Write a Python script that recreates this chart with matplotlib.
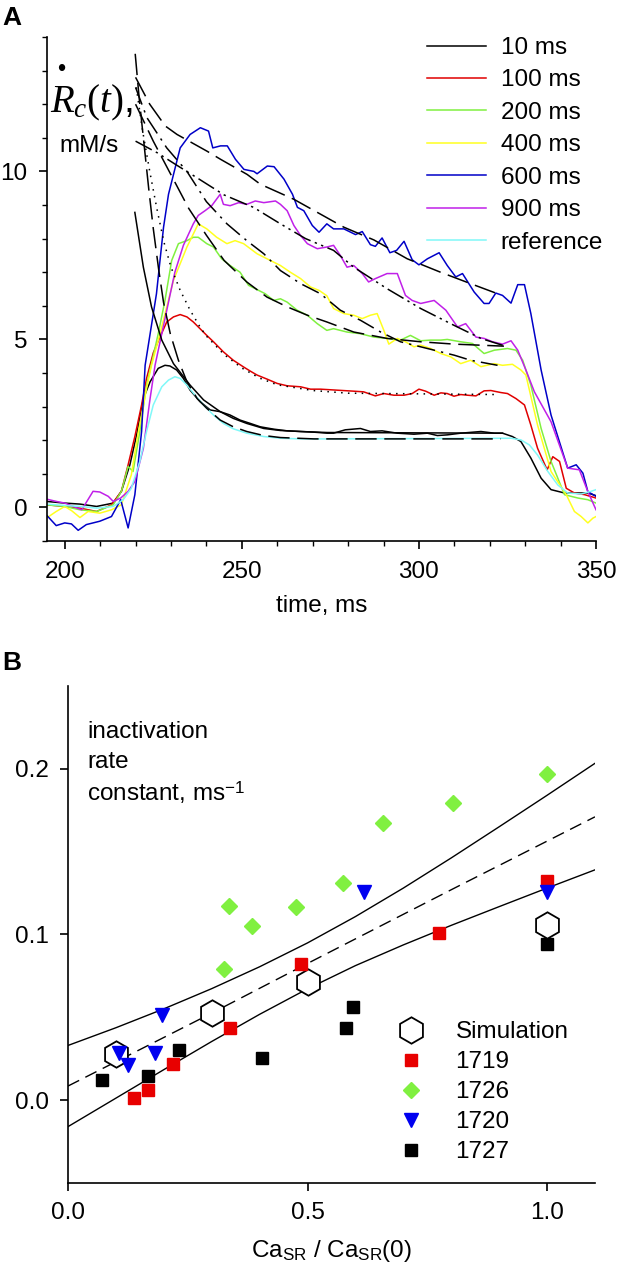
import matplotlib
matplotlib.use("Agg")
import matplotlib.pyplot as plt

plt.rcParams['font.family'] = ['Liberation Sans', 'DejaVu Sans']
plt.rcParams['mathtext.fontset'] = 'custom'
plt.rcParams['mathtext.rm'] = 'Liberation Serif'
plt.rcParams['mathtext.it'] = 'Liberation Serif:italic'
plt.rcParams['mathtext.sf'] = 'Liberation Sans'

# ---------------- panel A: release flux traces ----------------
T_10 = [194.8, 200, 204.3, 209, 213.7, 216, 218.4, 220.3, 222.2, 224.1, 226.4, 228.3, 229.7, 231.6,
        233.5, 235.4, 238.2, 241.1, 243.9, 246.7, 249.5, 252.4, 255.2, 259, 262.8, 266.6, 270.4, 274.1,
        275.9, 279.2, 283.5, 286.3, 289.6, 293.9, 298.6, 302.4, 305.2, 308, 311.8, 317.5, 321.3, 323.6,
        326.4, 328.8, 331.6, 334.5, 337.3, 341.1, 344.9, 347.7, 350]
R_10 = [0.18, 0.13, 0.10, 0.03, 0.13, 0.48, 1.27, 2.16, 3.24, 3.74, 4.14, 4.23, 4.21, 4.09,
        3.84, 3.49, 3.15, 2.90, 2.85, 2.75, 2.60, 2.50, 2.40, 2.33, 2.28, 2.26, 2.24, 2.21,
        2.21, 2.31, 2.35, 2.26, 2.28, 2.21, 2.18, 2.21, 2.14, 2.16, 2.21, 2.26, 2.21, 2.21,
        2.11, 1.96, 1.47, 0.87, 0.53, 0.43, 0.43, 0.43, 0.35]

T_100 = [194.8, 200, 204.3, 209, 213.2, 216, 217.9, 219.8, 221.7, 223.1, 225, 226.9, 228.8, 230.7,
         232.6, 234.5, 236.3, 238.2, 240.1, 242, 244.8, 247.6, 250.5, 252.5, 254.3, 257.1, 260, 262.8,
         266.6, 269.4, 272.2, 276.9, 281.6, 284.4, 287.7, 290.1, 292.9, 295.8, 298.1, 300, 301.9,
         304.3, 306.2, 308, 309.9, 311.8, 313.7, 316.1, 318.4, 320.3, 323.1, 325, 327.4, 329.8, 331.6,
         333.5, 336.2, 337.8, 339.7, 341.6, 343.9, 346.8, 350]
R_100 = [0.08, 0.03, -0.02, -0.12, 0.08, 0.48, 1.27, 2.11, 3.05, 3.84, 4.6, 5.07, 5.52, 5.67,
         5.74, 5.67, 5.52, 5.32, 5.12, 4.93, 4.63, 4.38, 4.18, 4.05, 3.94, 3.82, 3.69, 3.62,
         3.59, 3.52, 3.52, 3.49, 3.46, 3.44, 3.32, 3.39, 3.34, 3.34, 3.39, 3.52, 3.46,
         3.34, 3.41, 3.39, 3.31, 3.36, 3.34, 3.32, 3.47, 3.48, 3.42, 3.39, 3.24, 3.05, 2.45,
         1.76, 1.12, 1.51, 1.37, 0.57, 0.43, 0.38, 0.28]

T_200 = [194.8, 200, 204.3, 209, 213.7, 216, 217.9, 219.3, 221.2, 223.1, 224.1, 226.4, 228.3, 230.2,
         232.1, 234.5, 236.3, 237.7, 240.1, 242, 244.3, 246.7, 249.5, 251.9, 253.8, 256.6, 259, 260.9,
         262.8, 265.6, 268.5, 271.3, 274, 275.9, 279.7, 283.5, 287.3, 291, 294.8, 297.6, 300.5, 303.3,
         306.2, 308, 311.8, 315.1, 318.4, 321.3, 325, 327.4, 329.3, 331.6, 334.5, 337.3, 341.1, 344.9,
         347.7, 350]
R_200 = [0.08, 0.03, -0.07, -0.12, 0.08, 0.48, 1.22, 1.07, 2.26, 3.64, 4.1, 5.17, 6.16, 7.35,
         7.85, 7.94, 8.04, 8.04, 7.85, 7.75, 7.40, 7.20, 7.0, 6.61, 6.51, 6.36, 6.16, 6.21,
         6.11, 5.87, 5.72, 5.47, 5.27, 5.32, 5.22, 5.17, 5.07, 5.03, 4.98, 5.12, 4.96, 4.98,
         4.98, 5.0, 4.93, 4.88, 4.58, 4.68, 4.73, 4.68, 4.38, 3.64, 2.35, 1.37, 0.38, 0.28,
         0.23, 0.13]

T_400 = [194.8, 197.6, 200, 202, 204.3, 206.6, 209.9, 213.2, 216, 218.8, 220.8, 223.1, 224.5, 226.9,
         230.7, 234.5, 237.7, 240.1, 242.9, 245.8, 248.1, 250.5, 254.3, 257.1, 259, 260.9, 263.7, 266.6,
         269.4, 271.8, 274, 275.9, 278.8, 281.6, 284, 286.3, 288.2, 290.1, 291.5, 293.9, 296.2, 298.6,
         300.5, 303.3, 306.2, 309, 311.8, 314.6, 317.5, 321.3, 323.6, 326.4, 328.8, 330.2, 333.5, 337.3,
         341.6, 343.9, 345.8, 347.7, 349.1, 350]
R_400 = [-0.32, -0.12, 0.03, -0.1, -0.30, -0.12, -0.17, -0.07, 0.08, 0.97, 2.26, 3.54, 4.23, 5.17,
         6.76, 7.75, 8.44, 8.29, 8.04, 7.85, 7.94, 7.85, 7.55, 7.40, 7.30, 7.20, 7.0, 6.81,
         6.56, 6.46, 6.3, 5.92, 5.77, 5.72, 5.62, 5.72, 5.77, 5.27, 4.86, 5.03, 4.93, 4.78,
         4.83, 4.73, 4.58, 4.48, 4.28, 4.38, 4.19, 4.28, 4.23, 4.26, 4.09, 3.94, 2.45, 1.07,
         0.38, -0.12, -0.27, -0.46, -0.32, -0.27]

T_600 = [194.8, 197.6, 200, 201.9, 203.8, 206.1, 209.9, 213.2, 215.8, 217.9, 219.8, 221.7, 222.7, 225.9,
         227.9, 229.3, 232.6, 235.4, 238.3, 240.6, 241.8, 244, 245.9, 248.2, 250.6, 253.4, 254.3, 257.2,
         259.1, 261.9, 264.3, 265.7, 267.5, 269.9, 271.8, 274, 275.9, 278.8, 282.1, 284, 286.3, 287.7,
         289.6, 291.8, 293.7, 295.8, 298.1, 300, 302.4, 305.7, 308, 310.4, 312.3, 315.6, 318.4, 319.8,
         321.7, 323.6, 326, 327.9, 329.8, 331.6, 334.5, 337.3, 342, 344.4, 346.3, 347.7, 350]
R_600 = [-0.22, -0.54, -0.46, -0.49, -0.68, -0.51, -0.41, -0.27, 0.23, -0.61, 0.38, 2.26, 4.23, 6.36,
         8.34, 9.32, 10.7, 11.1, 11.3, 11.2, 10.7, 10.76, 10.76, 10.36, 10.06, 10.0, 9.93, 10.16,
         10.14, 9.77, 9.32, 8.93, 8.83, 8.39, 8.19, 8.44, 8.29, 8.29, 8.12, 8.21, 7.82, 7.77,
         8.02, 7.58, 7.65, 7.92, 7.37, 7.22, 7.40, 7.58, 7.20, 6.86, 6.96, 6.41, 6.07, 6.07,
         6.38, 6.31, 6.08, 6.63, 6.63, 5.77, 4.09, 2.75, 1.17, 1.27, 1.02, 0.47, 0.33]

T_900 = [194.8, 197.6, 200, 202.4, 204.8, 208, 209.9, 212.3, 213.7, 215.8, 217.9, 219.8, 222.2, 224.1,
         225.5, 231.1, 233.5, 236.3, 237.7, 239.6, 241.5, 243.9, 244.8, 246.7, 249.1, 251.4, 253.8,
         256.2, 259.5, 260.9, 262.8, 264.7, 266.6, 268.5, 271.3, 274, 275.9, 277.8, 279.7, 281.6, 284,
         285.8, 287.7, 291, 293.9, 296.2, 298.1, 300.5, 304.3, 307.6, 310.9, 313.2, 316.1, 318.4,
         320.8, 323.6, 326, 327.9, 330.2, 332.6, 337.3, 342, 345.3, 347.7, 350]
R_900 = [0.25, 0.18, 0.13, 0.03, -0.07, 0.48, 0.46, 0.33, 0.18, 0.28, 0.48, 0.77, 1.76, 3.24,
         4.23, 7.0, 7.8, 8.44, 8.69, 8.83, 8.98, 9.32, 9.02, 8.98, 9.07, 9.02, 9.12,
         9.07, 9.12, 9.02, 8.83, 8.39, 8.09, 7.85, 7.7, 7.75, 7.80, 7.50, 7.15, 7.20, 6.96,
         6.71, 6.81, 6.96, 6.96, 6.31, 6.16, 6.07, 6.16, 5.87, 5.37, 5.47, 5.07, 5.03,
         4.93, 4.86, 4.96, 4.68, 4.09, 3.44, 2.55, 1.17, 1.12, 0.47, -0.07]

T_REF = [194.8, 200, 204.3, 209, 213.7, 216.5, 218.8, 221.2, 223.1, 225, 227.4, 229.3, 231.1, 232.6,
         234.5, 236.8, 239.2, 242, 244.8, 247.6, 251.4, 256.2, 260.9, 266.6, 274, 326, 328.8, 331.2,
         333.5, 336.4, 339.2, 342, 345.8, 348.6, 350]
R_REF = [0.10, 0.06, 0.03, -0.02, 0.03, 0.23, 0.57, 1.37, 2.26, 3.05, 3.59, 3.79, 3.89, 3.84,
         3.64, 3.34, 3.05, 2.75, 2.50, 2.34, 2.21, 2.11, 2.06, 2.04, 2.04, 2.06, 2.01, 1.86,
         1.56, 1.07, 0.67, 0.43, 0.40, 0.48, 0.53]

# fitted decays (black)
FT_10 = [219.8, 222.2, 224.5, 227.4, 230.7, 235.4, 239.2, 243.9, 247.6, 251.4, 256.2, 260.9, 266.6, 274.1, 323.6]
FR_10 = [8.78, 7.15, 5.97, 4.98, 4.28, 3.64, 3.2, 2.85, 2.65, 2.50, 2.35, 2.29, 2.26, 2.23, 2.21]
FT_REF = [219.9, 221, 222.3, 223.7, 225, 226.5, 227.9, 229.8, 232.1, 234.5, 237.4, 240.1, 243.9, 247.6,
          251.4, 256.2, 260.9, 270.4, 323.1]
FR_REF = [13.5, 12.2, 10.9, 9.5, 8.3, 7.1, 6.1, 5.17, 4.38, 3.74, 3.24, 2.95, 2.60, 2.40,
          2.26, 2.14, 2.08, 2.04, 2.04]
FT_100 = [220.2, 222, 224, 226, 228, 230, 232.6, 235.4, 238.2, 240, 245, 250, 255, 260, 270, 280, 322]
FR_100 = [12.5, 11.2, 10.0, 8.9, 7.9, 7.15, 6.46, 5.87, 5.37, 5.1, 4.55, 4.15, 3.85, 3.65, 3.48, 3.40, 3.36]
FT_200 = [220, 225, 230, 235, 240, 245, 251.4, 257.1, 262.8, 268.5, 274, 281.6, 291, 300.5, 310, 324]
FR_200 = [12.0, 10.9, 9.9, 8.9, 8.1, 7.35, 6.71, 6.26, 5.97, 5.72, 5.52, 5.22, 5.03, 4.93, 4.86, 4.80]
FT_400 = [220, 223.2, 228.8, 234.5, 240, 245.8, 251.4, 256.2, 260.9, 266.6, 272.2, 277.8, 283.5, 289.2,
          294.8, 304.3, 310, 314.6, 322.2]
FR_400 = [12.5, 11.6, 10.7, 10.0, 9.1, 8.44, 7.94, 7.55, 7.05, 6.66, 6.36, 5.87, 5.57, 5.22,
          4.93, 4.68, 4.53, 4.38, 4.23]
FT_600 = [220, 224, 228.4, 231.7, 240.2, 244, 251.5, 255.2, 264.7, 278.8, 287.3, 296.7, 306.1, 314.6, 322.2]
FR_600 = [12.8, 12.0, 11.35, 11.1, 10.6, 10.36, 9.91, 9.62, 9.17, 8.34, 7.96, 7.40, 7.0, 6.66, 6.36]
FT_900 = [220, 226.2, 231.4, 237.5, 245, 253.3, 260.9, 268, 275.9, 281.6, 291, 300.5, 309.9, 317.5, 324.1]
FR_900 = [10.9, 10.55, 10.2, 9.8, 9.3, 8.93, 8.44, 8.0, 7.65, 7.15, 6.51, 5.92, 5.42, 5.03, 4.81]

# ---------------- panel B: inactivation rate constant ----------------
SIM_X = [0.10, 0.30, 0.50, 1.00]
SIM_Y = [0.0281, 0.0526, 0.0711, 0.1055]
S1719_X = [0.137, 0.168, 0.220, 0.338, 0.486, 0.775, 1.00]
S1719_Y = [0.001, 0.0063, 0.0221, 0.0438, 0.082, 0.1010, 0.1325]
S1726_X = [0.326, 0.336, 0.384, 0.475, 0.573, 0.658, 0.803, 1.00]
S1726_Y = [0.0789, 0.1169, 0.1052, 0.1165, 0.131, 0.167, 0.1795, 0.197]
S1720_X = [0.107, 0.125, 0.182, 0.196, 0.618, 1.00]
S1720_Y = [0.0285, 0.0215, 0.0285, 0.0516, 0.1259, 0.1259]
S1727_X = [0.0705, 0.166, 0.231, 0.406, 0.580, 0.594, 1.00]
S1727_Y = [0.0119, 0.0145, 0.030, 0.0257, 0.0436, 0.056, 0.0944]

UP_X = [0, 0.1, 0.2, 0.3, 0.4, 0.5, 0.6, 0.7, 0.8, 0.9, 1.0, 1.1]
UP_Y = [0.033, 0.0437, 0.0551, 0.0673, 0.0805, 0.0949, 0.1108, 0.128, 0.1462, 0.165, 0.184, 0.2033]
MID_X = [0, 0.3, 0.5, 0.8, 1.1]
MID_Y = [0.0085, 0.0525, 0.0825, 0.127, 0.171]
LOW_X = [0, 0.1, 0.2, 0.3, 0.4, 0.5, 0.6, 0.7, 0.8, 0.9, 1.0, 1.1]
LOW_Y = [-0.016, 0.0012, 0.0184, 0.0354, 0.0518, 0.0672, 0.0812, 0.0937, 0.1055, 0.1168, 0.128, 0.139]

FS = 17.5

fig = plt.figure(figsize=(6.17, 12.8), dpi=100)

# ---------------- A ----------------
ax = fig.add_axes([0.0762, 0.5773, 0.8898, 0.3938])
traces = [(T_10, R_10, "black", "10 ms"), (T_100, R_100, "#e00000", "100 ms"),
          (T_200, R_200, "#80f040", "200 ms"), (T_400, R_400, "#ffff20", "400 ms"),
          (T_600, R_600, "#0000c8", "600 ms"), (T_900, R_900, "#c020e8", "900 ms"),
          (T_REF, R_REF, "#80f8f8", "reference")]
for t, r, c, lab in traces:
    ax.plot(t, r, color=c, lw=1.1, label=lab)

fits = [(FT_10, FR_10, None), (FT_REF, FR_REF, [14, 5]), (FT_100, FR_100, [1, 3.5]),
        (FT_200, FR_200, [14, 5]), (FT_400, FR_400, [12, 4, 1.5, 4]),
        (FT_600, FR_600, [14, 5]), (FT_900, FR_900, [12, 3, 1.5, 3, 1.5, 3])]
for t, r, d in fits:
    ln, = ax.plot(t, r, color="black", lw=1.1, zorder=3)
    if d is not None:
        ln.set_dashes(d)

ax.set_xlim(195, 350)
ax.set_ylim(-1, 14)
ax.set_xticks([200, 250, 300, 350])
ax.set_xticks(range(200, 351, 10), minor=True)
ax.set_yticks([0, 5, 10])
ax.set_yticks(range(-1, 15), minor=True)
for s in ("top", "right"):
    ax.spines[s].set_visible(False)
for s in ("left", "bottom"):
    ax.spines[s].set_linewidth(1.2)
ax.tick_params(which="major", length=6, width=1.2, labelsize=FS, pad=8)
ax.tick_params(which="minor", length=3.5, width=1.0)
ax.set_xlabel("time, ms", fontsize=FS, labelpad=9)

leg = ax.legend(loc="upper left", bbox_to_anchor=(0.6916, 1 - 37 / 1280), bbox_transform=fig.transFigure,
                frameon=False, fontsize=FS, handlelength=2.45, handletextpad=0.6,
                labelspacing=0.43, borderpad=0, borderaxespad=0)

fig.text(0.003, 0.995, "A", fontsize=19, fontweight="bold", va="top", ha="left")
fig.text(61 / 617, 1 - 70 / 1280, "\u2022", fontsize=17, ha="center", va="center")
fig.text(50 / 617, 1 - 103 / 1280, r"$R_c(t)$,", fontsize=28, ha="left", va="center")
fig.text(89 / 617, 1 - 146 / 1280, "mM/s", fontsize=FS, ha="center", va="center")

# ---------------- B ----------------
bx = fig.add_axes([0.1102, 0.0758, 0.8541, 0.3883])
bx.plot(UP_X, UP_Y, color="black", lw=1.0)
bx.plot(MID_X, MID_Y, color="black", lw=1.0, dashes=[9, 5])
bx.plot(LOW_X, LOW_Y, color="black", lw=1.0)
bx.plot(S1727_X, S1727_Y, ls="none", marker="s", ms=9, color="black", zorder=3, label="1727")
bx.plot(SIM_X, SIM_Y, ls="none", marker="h", ms=19, mfc="white", mec="black", mew=1.3, zorder=4,
        label="Simulation")
bx.plot(S1719_X, S1719_Y, ls="none", marker="s", ms=9, color="#e80000", zorder=5, label="1719")
bx.plot(S1726_X, S1726_Y, ls="none", marker="D", ms=8.5, color="#80f040", zorder=5, label="1726")
bx.plot(S1720_X, S1720_Y, ls="none", marker="v", ms=10, color="#0000f0", zorder=6, label="1720")

h, l = bx.get_legend_handles_labels()
order = [l.index(k) for k in ["Simulation", "1719", "1726", "1720", "1727"]]
bx.legend([h[i] for i in order], [l[i] for i in order], loc="upper left",
          bbox_to_anchor=(396 / 617, 1 - 1021 / 1280), bbox_transform=fig.transFigure,
          frameon=False, fontsize=FS, handlelength=1.2, handletextpad=1.25,
          labelspacing=0.33, borderpad=0, borderaxespad=0, numpoints=1)

bx.set_xlim(0, 1.1)
bx.set_ylim(-0.05, 0.25)
bx.set_xticks([0.0, 0.5, 1.0])
bx.set_xticklabels(["0.0", "0.5", "1.0"])
bx.set_yticks([0.0, 0.1, 0.2])
bx.set_yticklabels(["0.0", "0.1", "0.2"])
for s in ("top", "right"):
    bx.spines[s].set_visible(False)
for s in ("left", "bottom"):
    bx.spines[s].set_linewidth(1.2)
bx.tick_params(which="major", length=6, width=1.2, labelsize=FS, pad=8)
bx.set_xlabel(r"Ca$_{\mathsf{SR}}$ / Ca$_{\mathsf{SR}}$(0)", fontsize=FS, labelpad=10)

fig.text(0.003, 1 - 651 / 1280, "B", fontsize=19, fontweight="bold", va="top", ha="left")
fig.text(87 / 617, 1 - 732 / 1280, "inactivation", fontsize=FS, ha="left", va="center")
fig.text(87 / 617, 1 - 762 / 1280, "rate", fontsize=FS, ha="left", va="center")
fig.text(87 / 617, 1 - 793 / 1280, r"constant, ms$^{\mathsf{-1}}$", fontsize=FS, ha="left", va="center")

fig.savefig("out.png", dpi=100)
